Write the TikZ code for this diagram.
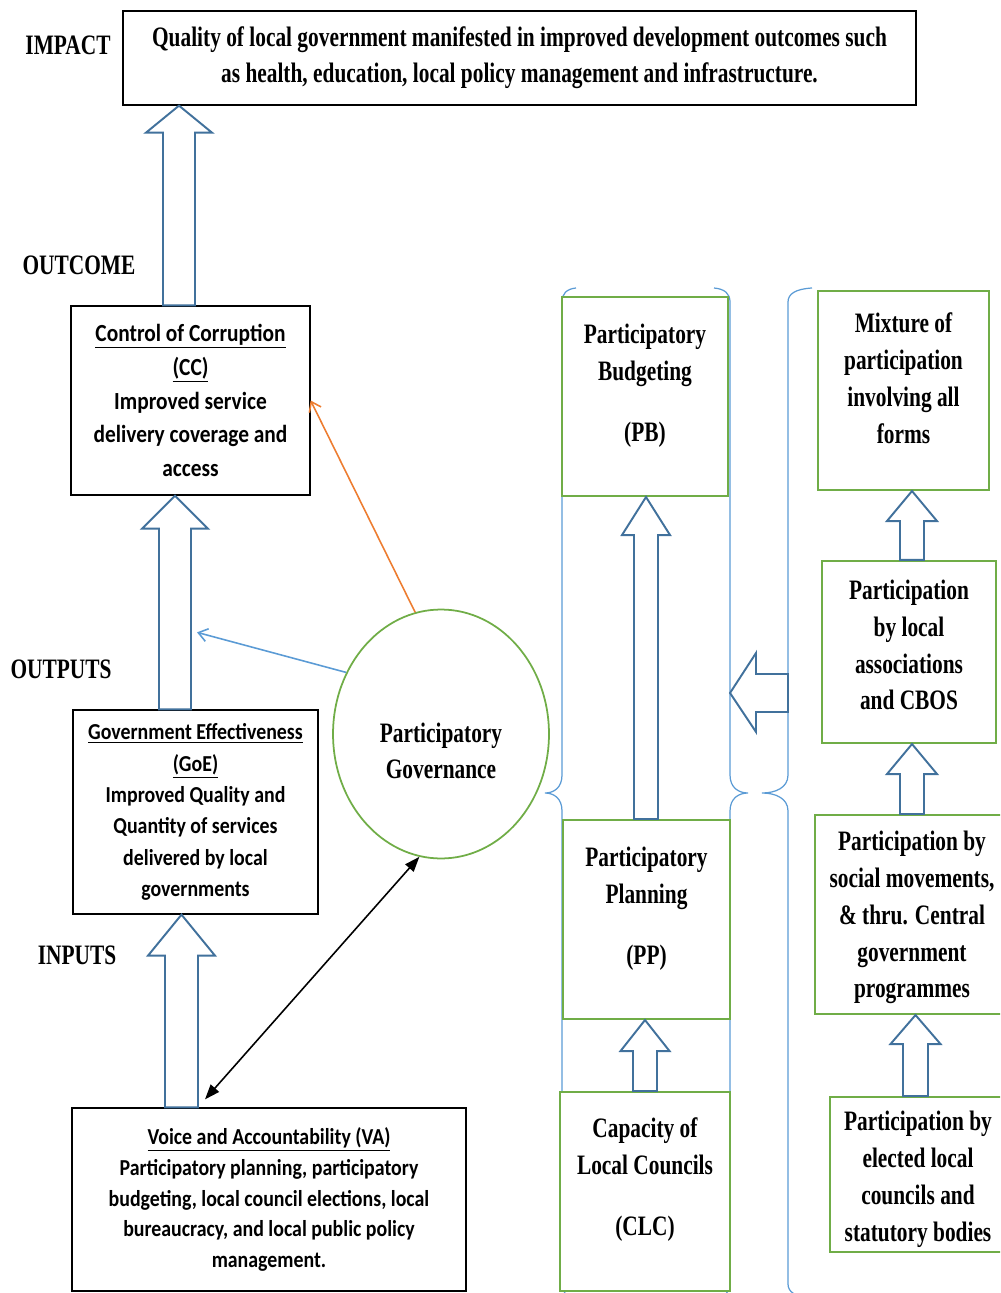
\documentclass[tikz,border=0pt]{standalone}
\usepackage{fontspec}
\setmainfont{Liberation Serif}[FakeStretch=0.76]
\newfontfamily\calfont{Carlito}[FakeStretch=0.87]
\usepackage{tikz}
\usetikzlibrary{arrows.meta,positioning,calc,shapes.geometric}
\definecolor{blkblue}{HTML}{41719C}
\definecolor{brblue}{HTML}{5B9BD5}
\definecolor{grn}{HTML}{70AD47}
\definecolor{org}{HTML}{ED7D31}
% hollow block arrow pointing up: tail, target, half shaft, half head, head length
\newcommand{\blockup}[5]{%
  \draw[blk] ($(#1)+(-#3,0)$) -- ($(#1|-#2)+(-#3,#5)$) -- ($(#1|-#2)+(-#4,#5)$) -- (#1|-#2)
    -- ($(#1|-#2)+(#4,#5)$) -- ($(#1|-#2)+(#3,#5)$) -- ($(#1)+(#3,0)$) -- cycle;}
% tall brace: x of line, tip depth, end hook
\newcommand{\vbrace}[3]{%
  \draw[brc] ({#1+#3},288) .. controls ({#1+0.3*#3},289) and (#1,294) .. (#1,302) -- (#1,775)
    .. controls (#1,788) and ({#1+0.5*#2},793) .. ({#1+#2},793) .. controls ({#1+0.5*#2},793) and (#1,798) .. (#1,811)
    -- (#1,1284) .. controls (#1,1292) and ({#1+0.3*#3},1297) .. ({#1+#3},1298);}

\begin{document}
\begin{tikzpicture}[x=0.02cm, y=-0.02cm,
  lbl/.style={font=\fontsize{16}{20}\selectfont\bfseries},
  bb/.style={draw, line width=0.75pt, fill=white, inner sep=0pt, align=center, font=\calfont\bfseries\fontsize{13}{17.6}\selectfont},
  gb/.style={draw=grn, line width=1.2pt, fill=white, inner sep=0pt},
  gt/.style={align=center, font=\fontsize{16}{21}\selectfont\bfseries},
  blk/.style={draw=blkblue, line width=1.1pt, fill=white},
  brc/.style={draw=brblue, line width=0.7pt},
  lnk/.style={line width=0.9pt}]
  \useasboundingbox (0,0) rectangle (1000,1293);
  \clip (0,0) rectangle (1000,1293);
  % braces
  \foreach \x/\d/\k in {562/-17/14, 730/18/-16, 788/-26/24} \vbrace{\x}{\d}{\k};
  % levels
  \node[lbl] (limp) at (68,45) {IMPACT}; \node[lbl] (lout) at (79,265) {OUTCOME};
  \node[lbl] (lop) at (61,669) {OUTPUTS}; \node[lbl] (lin) at (77,955) {INPUTS};
  \node[draw, line width=0.75pt, minimum width=15.86cm, minimum height=1.88cm, align=center, font=\fontsize{16}{20.4}\selectfont\bfseries] (impact) at (519.5,58)
    {Quality of local government manifested in improved development outcomes such\\as health, education, local policy management and infrastructure.};
  \node[bb, minimum width=4.78cm, minimum height=3.78cm, font=\calfont\bfseries\fontsize{14}{19.3}\selectfont] (cc) at (190.5,400.5)
    {\underline{Control of Corruption}\\\underline{(CC)}\\Improved service\\delivery coverage and\\access};
  \node[bb, minimum width=4.9cm, minimum height=4.08cm, font=\calfont\bfseries\fontsize{13}{17.8}\selectfont] (goe) at (195.5,812)
    {\underline{Government Effectiveness}\\\underline{(GoE)}\\Improved Quality and\\Quantity of services\\delivered by local\\governments};
  \node[bb, minimum width=7.88cm, minimum height=3.66cm] (va) at (269,1199.5)
    {\underline{Voice and Accountability (VA)}\\Participatory planning, participatory\\budgeting, local council elections, local\\bureaucracy, and local public policy\\management.};
  \node[ellipse, draw=grn, line width=1pt, minimum width=4.32cm, minimum height=4.98cm,
    label={[gt,yshift=-9.6pt]center:{Participatory\\Governance}}] (pg) at (441,734) {};
  % middle and right columns
  \node[gb, minimum width=3.32cm, minimum height=3.98cm, label={[gt,yshift=6.2pt]center:{Participatory\\Budgeting\\[14pt](PB)}}] (pb) at (645,396.5) {};
  \node[gb, minimum width=3.34cm, minimum height=3.98cm, label={[gt,yshift=6.2pt]center:{Participatory\\Planning\\[14pt](PP)}}] (pp) at (646.5,919.5) {};
  \node[gb, minimum width=3.4cm, minimum height=3.98cm, label={[gt,yshift=6.8pt]center:{Capacity of\\Local Councils\\[14pt](CLC)}}] (clc) at (645,1191.5) {};
  \node[gb, minimum width=3.42cm, minimum height=3.98cm, label={[gt,yshift=6.8pt]center:{Mixture of\\participation\\involving all\\forms}}] (mix) at (903.5,390.5) {};
  \node[gb, minimum width=3.48cm, minimum height=3.64cm, label={[gt,yshift=4pt]center:{Participation\\by local\\associations\\and CBOS}}] (assoc) at (909,652) {};
  \node[gb, minimum width=3.88cm, minimum height=3.98cm, label={[gt,yshift=-1.7pt]center:{Participation by\\social movements,\\\& thru. Central\\government\\programmes}}] (soc) at (912,914.5) {};
  \node[gb, minimum width=3.52cm, minimum height=3.1cm, label={[gt,yshift=-2.8pt]center:{Participation by\\elected local\\councils and\\statutory bodies}}] (elc) at (918,1174.5) {};
  % block arrows
  \coordinate (t1) at ($(cc.north)+(-11.5,0)$); \coordinate (t2) at ($(goe.north)+(-20.5,0)$);
  \coordinate (t3) at ($(va.north)+(-87.5,0)$); \coordinate (t4) at ($(pp.north)+(-0.5,0)$);
  \coordinate (t5) at (clc.north); \coordinate (t6) at ($(assoc.north)+(3,0)$);
  \coordinate (t7) at (soc.north); \coordinate (t8) at ($(elc.north)+(-2.5,0)$);
  \foreach \t/\h/\s/\w/\l in {t1/impact/16/33/27, t2/cc/16/33/33, t3/goe/16.5/33.5/41, t4/pb/12/24/38,
    t5/pp/12/24.5/31, t6/mix/12/25/30, t7/assoc/12/25/30, t8/soc/12.5/25/29}
    \blockup{\t}{\h.south}{\s}{\w}{\l};
  \coordinate (rb) at (788,693); \coordinate (mb) at (730,693);
  \draw[blk] ($(rb)+(0,-19)$) -- ($(mb)+(26,-19)$) -- ($(mb)+(26,-40)$) -- (mb) -- ($(mb)+(26,39)$) -- ($(mb)+(26,19)$) -- ($(rb)+(0,19)$) -- cycle;
  % links
  \coordinate (hit) at ($(t2)+(22,-77)$); \coordinate (vae) at ($(va.north)+(-64,-8)$);
  \draw[org, lnk, -{Straight Barb[length=1.8mm,width=2.6mm]}] (pg.102) -- (cc.east);
  \draw[brblue, lnk, -{Straight Barb[length=1.8mm,width=2.6mm]}] (pg.147) -- (hit);
  \draw[lnk, {Triangle[length=3mm,width=2.2mm]}-{Triangle[length=3mm,width=2.2mm]}] (vae) -- (pg.-100);
\end{tikzpicture}
\end{document}
